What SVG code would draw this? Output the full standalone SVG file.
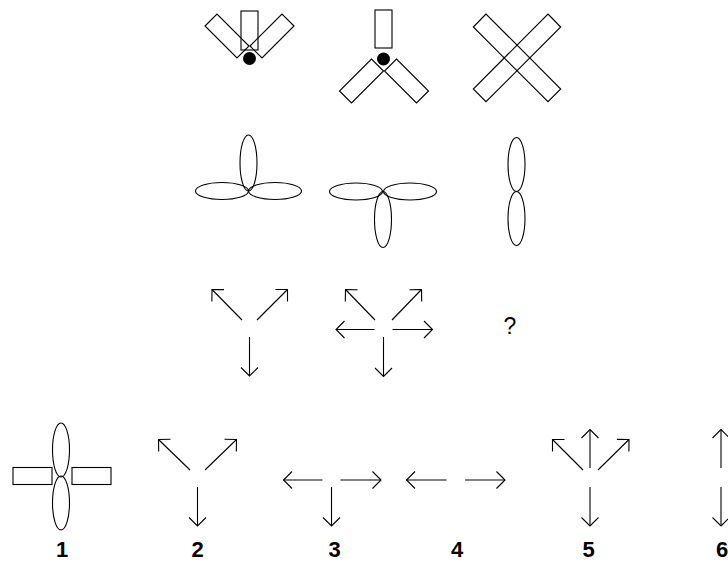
<svg xmlns="http://www.w3.org/2000/svg" width="728" height="567" viewBox="0 0 728 567">
<style>
.s{fill:none;stroke:#000;stroke-width:1.1}
.a{fill:none;stroke:#000;stroke-width:1.1;marker-end:url(#ah)}
.lbl{font-family:"Liberation Sans",Arial,sans-serif;font-weight:bold;font-size:22px;text-anchor:middle;fill:#000}
.q{font-family:"Liberation Sans",Arial,sans-serif;font-weight:normal;font-size:23px;text-anchor:middle;fill:#000}
</style>
<defs>
<marker id="ah" markerUnits="userSpaceOnUse" markerWidth="24" markerHeight="24" viewBox="-12 -12 24 24" refX="0" refY="0" orient="auto" overflow="visible">
<path d="M-8.5,-8.5 L0,0 L-8.5,8.5" fill="none" stroke="#000" stroke-width="1.1"/>
</marker>
</defs>
<rect width="728" height="567" fill="#fff"/>
<g id="fig-top-1">
<polygon class="s" points="205,26 217,14 249,46 237,58"/>
<polygon class="s" points="294,26 282,14 250,46 262,58"/>
<rect class="s" x="241" y="11" width="17" height="39"/>
<circle cx="249.5" cy="58.5" r="6.5" fill="#000"/>
</g>
<g id="fig-top-2">
<rect class="s" x="375" y="10" width="17" height="38"/>
<circle cx="383.5" cy="59" r="6.5" fill="#000"/>
<polygon class="s" points="339.5,91 351.5,103 383.5,71 371.5,59"/>
<polygon class="s" points="428.5,91 416.5,103 384.5,71 396.5,59"/>
</g>
<g id="fig-top-3">
<polygon class="s" points="486,14 473.3,27 548,101.7 560.7,89"/>
<polygon class="s" points="548,14 560.7,27 486,101.7 473.3,89"/>
</g>
<g id="fig-mid-1">
<ellipse class="s" cx="248.5" cy="163" rx="8.5" ry="28"/>
<ellipse class="s" cx="222" cy="191" rx="26.5" ry="8.5"/>
<ellipse class="s" cx="275" cy="191" rx="26.5" ry="8.5"/>
</g>
<g id="fig-mid-2">
<ellipse class="s" cx="356" cy="191.5" rx="26.5" ry="8.5"/>
<ellipse class="s" cx="410" cy="191.5" rx="26.5" ry="8.5"/>
<ellipse class="s" cx="383" cy="219.5" rx="8.5" ry="28"/>
</g>
<g id="fig-mid-3">
<ellipse class="s" cx="516.5" cy="164.5" rx="8.5" ry="27"/>
<ellipse class="s" cx="516.5" cy="218.5" rx="8.5" ry="27"/>
</g>
<g id="connectors">
<g id="fig-row3-1">
<line class="a" x1="242" y1="320" x2="212" y2="289.5"/>
<line class="a" x1="257" y1="320" x2="287.5" y2="289.5"/>
<line class="a" x1="249.5" y1="337" x2="249.5" y2="376"/>
</g>
<g id="fig-row3-2">
<line class="a" x1="375" y1="320" x2="345.5" y2="289.5"/>
<line class="a" x1="392" y1="320" x2="421.5" y2="289.5"/>
<line class="a" x1="374.5" y1="329.5" x2="336" y2="329.5"/>
<line class="a" x1="392.5" y1="329.5" x2="432.5" y2="329.5"/>
<line class="a" x1="383.5" y1="337" x2="383.5" y2="376.5"/>
</g>
<g id="opt-2-arrows">
<line class="a" x1="190" y1="470" x2="158.5" y2="439.5"/>
<line class="a" x1="205" y1="470" x2="236.5" y2="439.5"/>
<line class="a" x1="197.5" y1="487" x2="197.5" y2="526"/>
</g>
<g id="opt-3-arrows">
<line class="a" x1="322.5" y1="480" x2="283.5" y2="480"/>
<line class="a" x1="340.5" y1="480" x2="381" y2="480"/>
<line class="a" x1="331.5" y1="487" x2="331.5" y2="526"/>
</g>
<g id="opt-4-arrows">
<line class="a" x1="446.5" y1="480" x2="406.5" y2="480"/>
<line class="a" x1="465" y1="480" x2="505" y2="480"/>
</g>
<g id="opt-5-arrows">
<line class="a" x1="583" y1="470" x2="552.5" y2="439.5"/>
<line class="a" x1="598" y1="470" x2="629" y2="439.5"/>
<line class="a" x1="590" y1="468" x2="590" y2="429.5"/>
<line class="a" x1="590" y1="487" x2="590" y2="526"/>
</g>
<g id="opt-6-arrows">
<line class="a" x1="721" y1="468" x2="721" y2="429.5"/>
<line class="a" x1="721" y1="487" x2="721" y2="526"/>
</g>
</g>
<g id="question"><text class="q" x="510" y="334">?</text></g>
<g id="opt-1">
<ellipse class="s" cx="61" cy="450" rx="8.5" ry="27"/>
<ellipse class="s" cx="61" cy="503" rx="8.5" ry="27"/>
<rect class="s" x="13" y="467.5" width="39" height="17"/>
<rect class="s" x="72" y="467.5" width="39" height="17"/>
<text class="lbl" x="62" y="557">1</text>
</g>
<g id="opt-2"><text class="lbl" x="197.5" y="557">2</text></g>
<g id="opt-3"><text class="lbl" x="334.5" y="557">3</text></g>
<g id="opt-4"><text class="lbl" x="457" y="557">4</text></g>
<g id="opt-5"><text class="lbl" x="588.5" y="557">5</text></g>
<g id="opt-6"><text class="lbl" x="722" y="557">6</text></g>
</svg>
